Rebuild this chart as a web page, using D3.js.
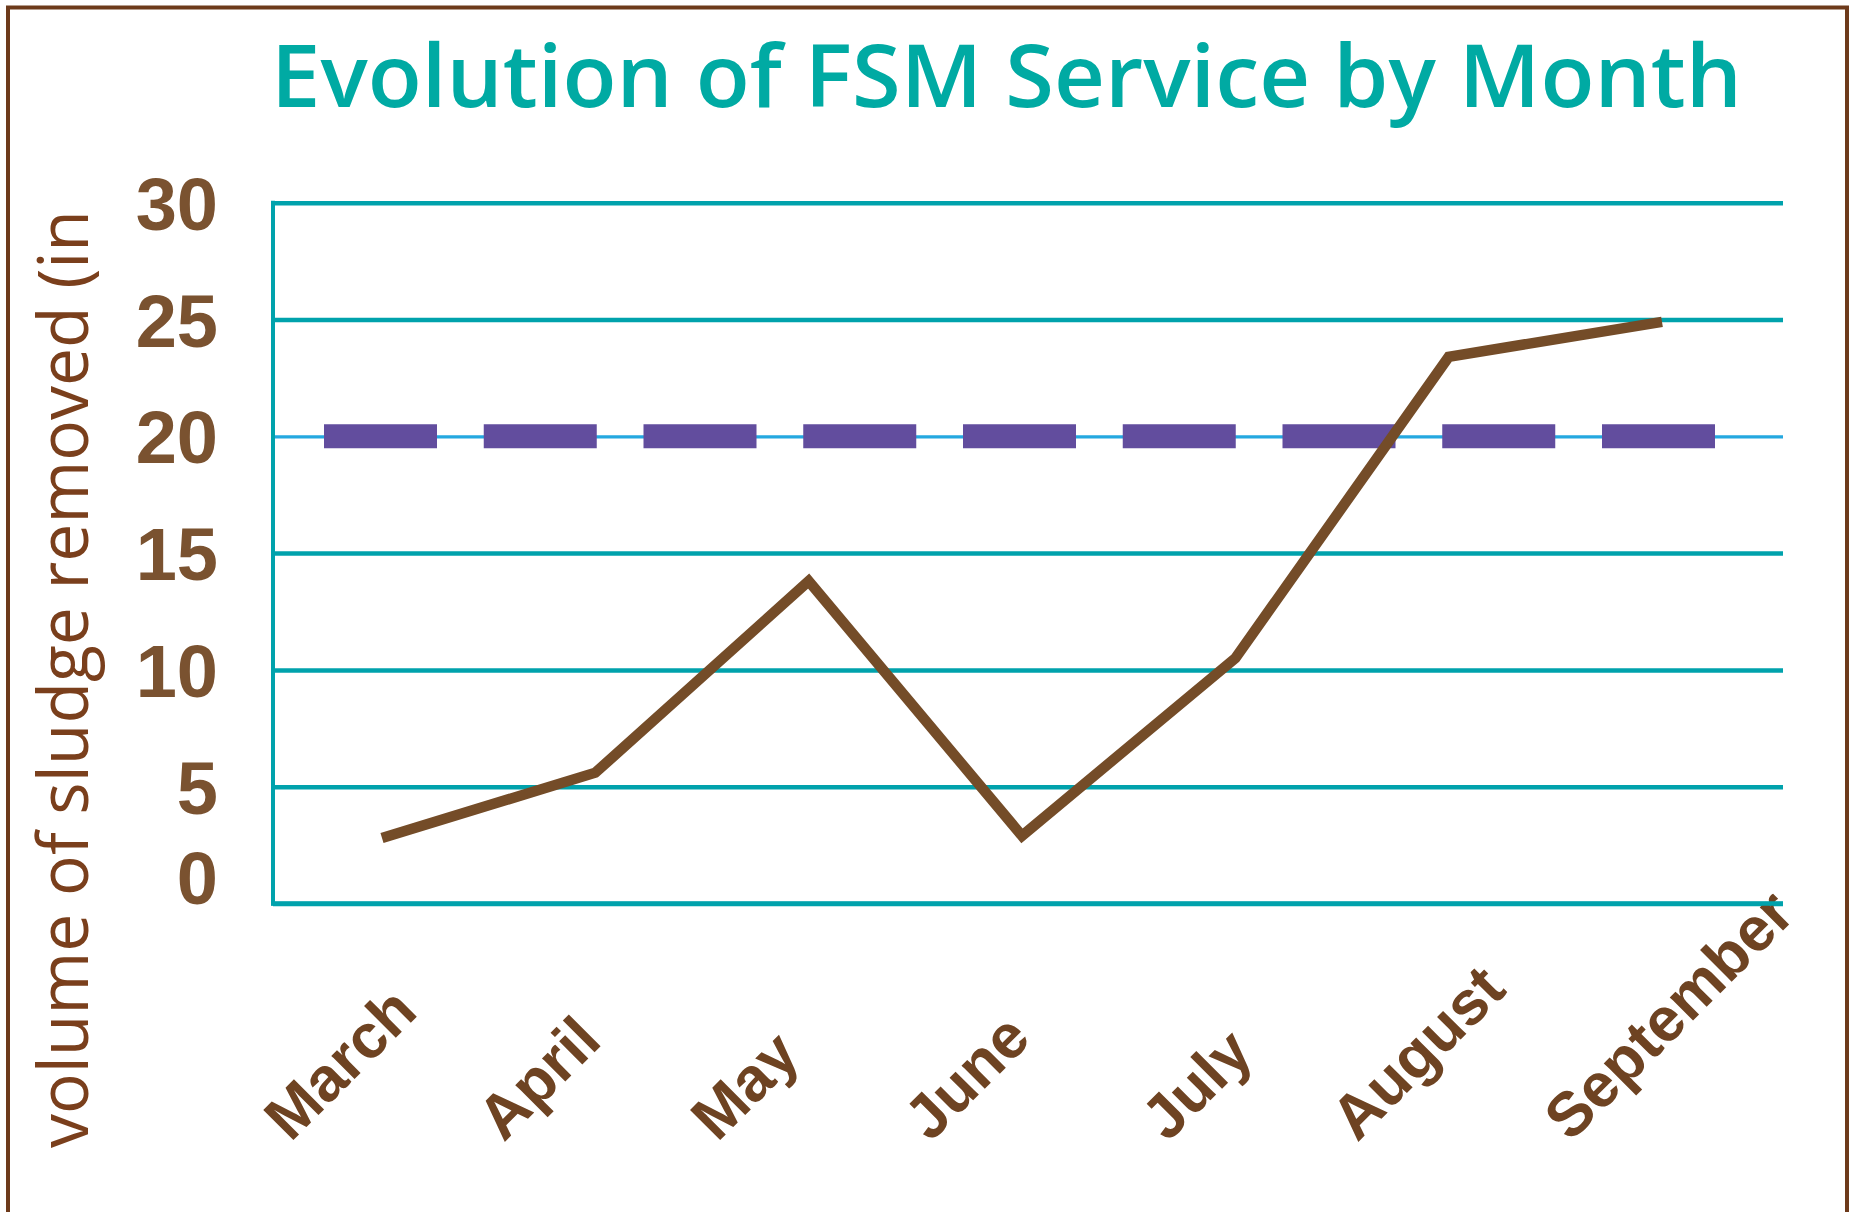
<!DOCTYPE html>
<html>
<head>
<meta charset="utf-8">
<script src="https://cdn.jsdelivr.net/npm/d3@7"></script>
<style>
  html, body { margin: 0; padding: 0; background: #ffffff; }
  svg { display: block; }
</style>
</head>
<body>
<script>
// ---- data ----
const months = ["March", "April", "May", "June", "July", "August", "September"];
const sludgeVolume = [2.8, 5.6, 13.8, 2.9, 10.5, 23.4, 24.9];
const targetValue = 20;
const yTicks = [0, 5, 10, 15, 20, 25, 30];
const chartTitle = "Evolution of FSM Service by Month";
const yAxisTitle = "volume of sludge removed (in";

// ---- layout ----
const W = 1853, H = 1212;
const plot = { left: 273, right: 1783, top: 202.7, bottom: 903.5 };

const svg = d3.select("body").append("svg")
  .attr("width", W).attr("height", H);

// frame (open at bottom)
svg.append("path")
  .attr("d", `M8,${H + 10} L8,7.5 L1847,7.5 L1847,${H + 10}`)
  .attr("fill", "none")
  .attr("stroke", "#6d3a1b")
  .attr("stroke-width", 4);

const x = d3.scalePoint().domain(months).range([382, 1662]);
const y = d3.scaleLinear().domain([0, 30]).range([plot.bottom, plot.top]);

// title
svg.append("text")
  .attr("x", 271).attr("y", 107)
  .attr("font-family", "'Open Sans', 'Noto Sans', sans-serif")
  .attr("font-weight", 600)
  .attr("font-size", 86)
  .attr("fill", "#00aaa3")
  .attr("textLength", 1471)
  .attr("lengthAdjust", "spacingAndGlyphs")
  .text(chartTitle);

// gridlines
const grid = svg.append("g")
  .attr("transform", `translate(${plot.left},0)`)
  .call(d3.axisLeft(y).tickValues(yTicks).tickSize(-(plot.right - plot.left)).tickFormat(""));
grid.select(".domain").remove();
grid.selectAll(".tick line")
  .attr("stroke", d => d === targetValue ? "#25a8e0" : "#00a2ac")
  .attr("stroke-width", d => d === targetValue ? 3.2 : 4.5);

// left axis line
svg.append("line")
  .attr("x1", plot.left).attr("x2", plot.left)
  .attr("y1", y(30) - 2).attr("y2", y(0) + 2)
  .attr("stroke", "#00a2ac").attr("stroke-width", 4);

// y tick labels
const yAx = svg.append("g")
  .attr("transform", `translate(${plot.left},0)`)
  .call(d3.axisLeft(y).tickValues(yTicks).tickSize(0).tickPadding(55));
yAx.select(".domain").remove();
yAx.selectAll(".tick text")
  .attr("font-family", "'Liberation Sans', Arial, sans-serif")
  .attr("font-weight", "bold")
  .attr("font-size", 74)
  .attr("fill", "#7a5230")
  .attr("dy", d => d === 0 ? "0em" : "0.36em");

// y axis title
svg.append("text")
  .attr("transform", "translate(88,1148) rotate(-90)")
  .attr("font-family", "'Open Sans', 'Noto Sans', sans-serif")
  .attr("font-size", 70)
  .attr("fill", "#7a3f1c")
  .attr("textLength", 938)
  .attr("lengthAdjust", "spacingAndGlyphs")
  .text(yAxisTitle);

// target dashed line
svg.append("line")
  .attr("x1", x(months[0]) - 58).attr("x2", x(months[months.length - 1]) + 53)
  .attr("y1", y(targetValue)).attr("y2", y(targetValue))
  .attr("stroke", "#624d9e")
  .attr("stroke-width", 24)
  .attr("stroke-dasharray", "113 46.75");

// data line
const line = d3.line().x((d, i) => x(months[i])).y(d => y(d));
svg.append("path")
  .datum(sludgeVolume)
  .attr("d", line)
  .attr("fill", "none")
  .attr("stroke", "#744c28")
  .attr("stroke-width", 10.5)
  .attr("stroke-linejoin", "miter");

// x axis
const xAx = svg.append("g")
  .attr("transform", `translate(0,${plot.bottom})`)
  .call(d3.axisBottom(x).tickSize(0));
xAx.select(".domain").remove();
svg.append("line")
  .attr("x1", plot.left - 2).attr("x2", plot.right)
  .attr("y1", plot.bottom).attr("y2", plot.bottom)
  .attr("stroke", "#00a2ac").attr("stroke-width", 4.5);
xAx.selectAll(".tick text")
  .attr("x", 0).attr("y", 0).attr("dy", 0)
  .attr("text-anchor", "start")
  .attr("transform", d => `translate(${d === "July" ? -68 : -92},${1143 - plot.bottom}) rotate(-45)`)
  .attr("font-family", "'Liberation Sans', Arial, sans-serif")
  .attr("font-weight", "bold")
  .attr("font-size", 62)
  .attr("fill", "#6e4322");
</script>
</body>
</html>
